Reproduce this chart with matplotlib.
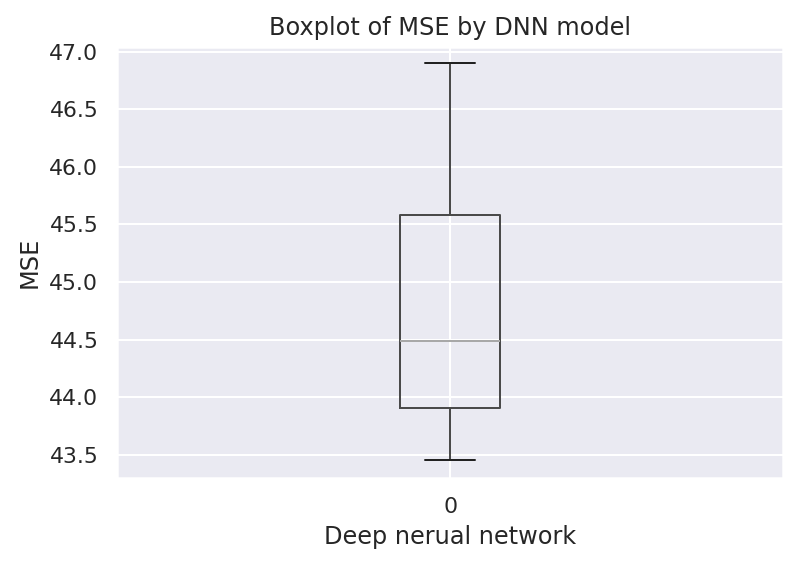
import matplotlib
matplotlib.use("Agg")
import matplotlib.pyplot as plt
import seaborn as sns

# box statistics for the single DNN model
model_labels = ["0"]
whisker_low = [43.457]
q1 = [43.907]
median = [44.489]
q3 = [45.584]
whisker_high = [46.896]

sns.set_theme()

fig, ax = plt.subplots(figsize=(798 / 144, 565 / 144), dpi=144)

stats = []
for i, lab in enumerate(model_labels):
    stats.append({
        "label": lab,
        "whislo": whisker_low[i],
        "q1": q1[i],
        "med": median[i],
        "q3": q3[i],
        "whishi": whisker_high[i],
        "fliers": [],
    })

ax.bxp(stats, widths=0.15, showfliers=False,
       boxprops=dict(color="#4a4a4a", linewidth=1.0),
       whiskerprops=dict(color="#4a4a4a", linewidth=1.0),
       capprops=dict(color="#222222", linewidth=1.0),
       medianprops=dict(color="#a8a8a8", linewidth=1.0))

ax.set_xlim(0.5, 1.5)
ax.set_ylim(43.3, 47.04)
ax.grid(True, axis="both")
ax.set_title("Boxplot of MSE by DNN model")
ax.set_xlabel("Deep nerual network")
ax.set_ylabel("MSE")

fig.subplots_adjust(left=0.147, right=0.981, top=0.917, bottom=0.154)
fig.savefig("out.png")
